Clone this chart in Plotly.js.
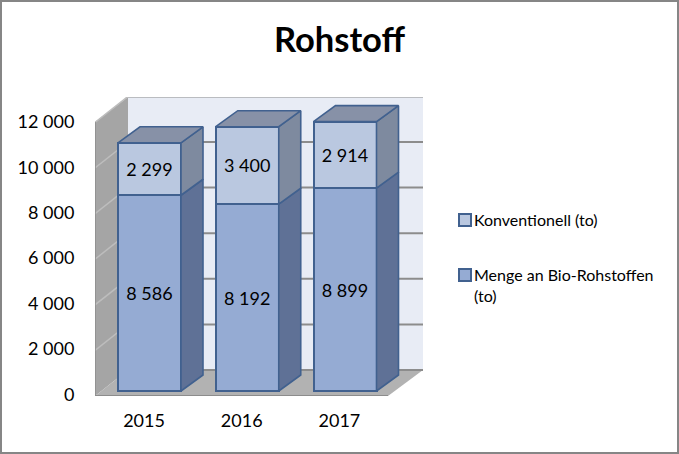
<!DOCTYPE html>
<html><head><meta charset="utf-8">
<script src="https://cdn.plot.ly/plotly-3.0.1.min.js"></script>
<style>html,body{margin:0;padding:0;background:#fff}#c{width:679px;height:454px}</style>
</head><body><div id="c"></div>
<script>
const years = ['2015','2016','2017'];
const bio = [8586, 8192, 8899];
const konv = [2299, 3400, 2914];
const yTicks = [0,2000,4000,6000,8000,10000,12000];
const fmt = v => String(v).replace(/\B(?=(\d{3})+$)/g,' ');

const W=679,H=454, L=95,R=423,T=97,B=396;
const pxPerUnit=0.0228, barBase=391, pxPerCat=97.75, cat0=149.5, barW=63;
const toX=p=>(p-cat0)/pxPerCat, toY=p=>(barBase-p)/pxPerUnit;
const dX=22/pxPerCat, dY=16/pxPerUnit, half=barW/2/pxPerCat;
const idx=years.map((_,i)=>i);
const total=idx.map(i=>bio[i]+konv[i]);

function poly(build){const xs=[],ys=[];idx.forEach(i=>{build(i).forEach(p=>{xs.push(p[0]);ys.push(p[1]);});xs.push(null);ys.push(null);});return {xs,ys};}
function side(lo,hi){return poly(i=>{const x=i+half;return [[x,lo[i]],[x,hi[i]],[x+dX,hi[i]+dY],[x+dX,lo[i]+dY],[x,lo[i]]];});}
const topFace=poly(i=>{const a=i-half,b=i+half,t=total[i];return [[a,t],[b,t],[b+dX,t+dY],[a+dX,t+dY],[a,t]];});
const edge='#41618f';
function face(p,color,name){return {type:'scatter',mode:'lines',x:p.xs,y:p.ys,fill:'toself',fillcolor:color,line:{color:edge,width:1.6},showlegend:false,hoverinfo:'skip',name};}
const lineOpts={color:edge,width:2};
const traces=[
 {type:'bar',name:'Menge an Bio-Rohstoffen<br>(to)',x:idx,y:bio,width:barW/pxPerCat,text:bio.map(fmt),textposition:'inside',insidetextanchor:'middle',textangle:0,constraintext:'none',
  marker:{color:'#95abd3',line:lineOpts},legendgroup:'b',legendrank:2,hoverinfo:'skip'},
 {type:'bar',name:'Konventionell (to)',x:idx,y:konv,width:barW/pxPerCat,text:konv.map(fmt),textposition:'inside',insidetextanchor:'middle',textangle:0,constraintext:'none',
  marker:{color:'#bac8e0',line:lineOpts},legendgroup:'a',legendrank:1,hoverinfo:'skip'},
 face(side(idx.map(()=>0),bio),'#5f7196','side bio'),
 face(side(bio,total),'#7e8a9f','side konv'),
 face(topFace,'#8791a7','top'),
 {type:'scatter',mode:'markers',x:idx,y:yTicks.slice(0,3),xaxis:'x2',yaxis:'y2',marker:{opacity:0},showlegend:false,hoverinfo:'skip'}
];

const floorBack=370;
const P=(pts)=>'M'+pts.map(p=>toX(p[0])+','+toY(p[1])).join('L')+'Z';
const shapes=[];
const sh=(path,fill,line,w)=>shapes.push({type:'path',xref:'x',yref:'y',layer:'below',path,fillcolor:fill,line:{color:line||'rgba(0,0,0,0)',width:w||0}});
sh(P([[128,T],[R,T],[R,floorBack],[128,floorBack]]),'#e8ecf5');
sh(P([[L,122],[128,T],[128,floorBack],[L,B]]),'#a5a5a5');
sh(P([[L,B],[128,floorBack],[R,floorBack],[388,B]]),'#b2b2b2');
yTicks.forEach(v=>{
  const yb=floorBack-v*pxPerUnit;
  shapes.push({type:'line',xref:'x',yref:'y',layer:'below',x0:toX(128),x1:toX(R),y0:toY(yb),y1:toY(yb),line:{color:'#8c8c8c',width:2}});
  if(v>0) shapes.push({type:'line',xref:'x',yref:'y',layer:'below',x0:toX(L),x1:toX(128),y0:toY(yb+26),y1:toY(yb),line:{color:'#bdbdbd',width:1.5}});
});
shapes.push({type:'line',xref:'x',yref:'y',layer:'below',x0:toX(L),x1:toX(388),y0:toY(B),y1:toY(B),line:{color:'#8c8c8c',width:2}});
shapes.push({type:'line',xref:'x',yref:'y',layer:'below',x0:toX(L),x1:toX(L),y0:toY(122),y1:toY(B),line:{color:'#8c8c8c',width:1.5}});
const px=p=>(p-L)/(R-L), py=p=>(B-p)/(B-T);
shapes.push({type:'rect',xref:'paper',yref:'paper',layer:'above',x0:px(1),x1:px(W-1),y0:py(1),y1:py(H-1),line:{color:'#868686',width:2},fillcolor:'rgba(0,0,0,0)'});

const fnt={family:'Lato, sans-serif',color:'#000'};
const layout={
 width:W,height:H,paper_bgcolor:'#fff',plot_bgcolor:'rgba(0,0,0,0)',barmode:'stack',showlegend:true,
 margin:{l:L,r:W-R,t:T,b:H-B,pad:0,autoexpand:false},
 font:fnt,
 title:{text:'<b>Rohstoff</b>',x:0.5,xanchor:'center',y:1-40/H,yanchor:'middle',font:{family:'Lato, sans-serif',size:34.5,color:'#000'}},
 xaxis:{range:[toX(L),toX(R)],visible:false,fixedrange:true},
 yaxis:{range:[toY(B),toY(T)],visible:false,fixedrange:true},
 xaxis2:{overlaying:'x',anchor:'y2',range:[(L-144)/97.7,(R-144)/97.7],tickmode:'array',tickvals:idx,ticktext:years,ticks:'outside',ticklen:8,tickcolor:'rgba(0,0,0,0)',showgrid:false,zeroline:false,showline:false,tickfont:{family:'Lato, sans-serif',size:18,color:'#000'},fixedrange:true},
 yaxis2:{overlaying:'y',anchor:'x2',side:'left',range:[(394.3-B)/0.02269,(394.3-T)/0.02269],tickmode:'array',tickvals:yTicks,ticktext:yTicks.map(fmt),ticks:'outside',ticklen:16,tickcolor:'rgba(0,0,0,0)',showgrid:false,zeroline:false,showline:false,tickfont:{family:'Lato, sans-serif',size:18,color:'#000'},fixedrange:true},
 legend:{x:(434-L)/(R-L),xanchor:'left',y:py(203),yanchor:'top',traceorder:'grouped',tracegroupgap:31,font:{family:'Lato, sans-serif',size:16,color:'#000'},bgcolor:'rgba(0,0,0,0)',itemclick:false,itemdoubleclick:false},
 shapes,
 uniformtext:{mode:false}
};
traces.filter(t=>t.type==='bar').forEach(t=>t.insidetextfont={family:'Lato, sans-serif',size:18,color:'#000'});
Plotly.newPlot('c',traces,layout,{displayModeBar:false,staticPlot:true}).then(gd=>{
  gd.querySelectorAll('.legendsymbols').forEach(g=>{
    const multi=g.closest('.traces').textContent.includes('Menge');
    g.setAttribute('transform','translate(11,'+(multi?-10:0)+')');
  });
});
</script></body></html>
